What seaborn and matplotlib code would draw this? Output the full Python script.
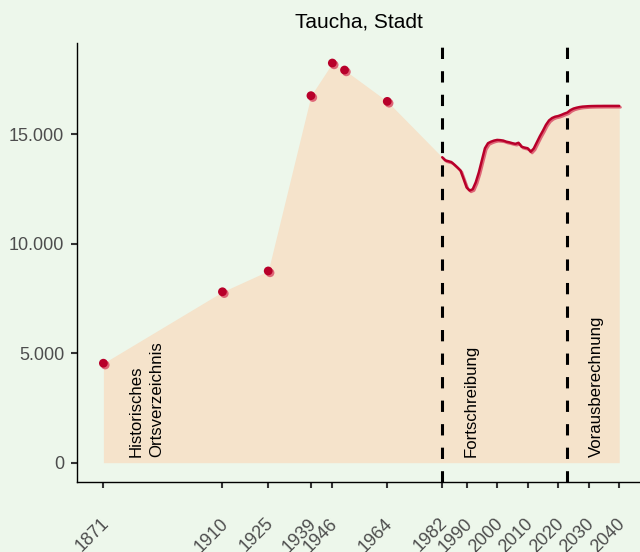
import matplotlib
matplotlib.use("Agg")
import matplotlib.pyplot as plt
import matplotlib.patheffects as pe
import matplotlib.transforms as mtransforms
import seaborn as sns
import pandas as pd
import numpy as np

# ---- data ----
title = "Taucha, Stadt"
hist_years = [1871, 1910, 1925, 1939, 1946, 1950, 1964]
hist_pop = [4540, 7800, 8750, 16750, 18240, 17920, 16490]

fort_years = [1982, 1983, 1984, 1985, 1986, 1987, 1988, 1989, 1990, 1991,
              1992, 1993, 1994, 1995, 1996, 1997, 1998, 1999, 2000, 2001,
              2002, 2003, 2004, 2005, 2006, 2007, 2008, 2009, 2010, 2011,
              2012, 2013, 2014, 2015, 2016, 2017, 2018, 2019, 2020, 2021,
              2022, 2023]
fort_pop = [13940, 13800, 13760, 13720, 13600, 13470, 13330, 12950, 12560, 12420,
            12480, 12800, 13250, 13800, 14350, 14580, 14650, 14700, 14730, 14720,
            14700, 14650, 14620, 14580, 14550, 14600, 14420, 14380, 14350, 14190,
            14340, 14620, 14900, 15150, 15420, 15620, 15730, 15790, 15820, 15870,
            15930, 15980]

proj_years = [2024, 2025, 2026, 2027, 2028, 2029, 2030, 2031, 2032, 2033,
              2034, 2035, 2036, 2037, 2038, 2039, 2040]
proj_pop = [16090, 16160, 16200, 16230, 16250, 16260, 16270, 16275, 16278, 16280,
            16280, 16282, 16282, 16282, 16282, 16282, 16282]

section_breaks = [1982, 2023]
section_labels = ["Historisches\nOrtsverzeichnis", "Fortschreibung", "Vorausberechnung"]
section_label_x = [1885, 1991.6, 2032.6]

xticks = [1871, 1910, 1925, 1939, 1946, 1964, 1982, 1990, 2000, 2010, 2020, 2030, 2040]
yticks = [0, 5000, 10000, 15000]
ytick_labels = ["0", "5.000", "10.000", "15.000"]

# ---- style ----
bg = "#edf7eb"
area_col = "#f5e3cb"
red = "#b8002a"
shadow = "#de6677"

sns.set_theme(style="ticks")
plt.rcParams["font.family"] = ["Liberation Sans", "DejaVu Sans"]

fig = plt.figure(figsize=(6.4, 5.52), dpi=100, facecolor=bg)
ax = fig.add_axes([0.121, 0.1263, 0.879, 0.7953])
ax.set_facecolor(bg)

line_df = pd.DataFrame({"year": fort_years + proj_years, "pop": fort_pop + proj_pop})
hist_df = pd.DataFrame({"year": hist_years, "pop": hist_pop})
all_df = pd.concat([hist_df, line_df], ignore_index=True)

ax.fill_between(all_df["year"], 0, all_df["pop"], color=area_col, lw=0, zorder=1)

for xb in section_breaks:
    ax.axvline(xb, color="black", lw=2.2, dashes=(3.7, 4.0), zorder=2)

sns.lineplot(data=line_df, x="year", y="pop", ax=ax, color=red, lw=1.8, zorder=4,
             path_effects=[pe.SimpleLineShadow(offset=(1.0, -1.0), shadow_color=shadow,
                                                alpha=1.0), pe.Normal()])
sns.scatterplot(data=hist_df, x="year", y="pop", ax=ax, color=red, s=40,
                linewidth=0, zorder=5,
                path_effects=[pe.SimplePatchShadow(offset=(1.3, -1.3), shadow_rgbFace=shadow,
                                                   alpha=1.0), pe.Normal()])

for lab, lx in zip(section_labels, section_label_x):
    ax.text(lx, 250, lab, rotation=90, rotation_mode="anchor", ha="left", va="center",
            fontsize=12.1, color="black", linespacing=1.45, zorder=6)

ax.set_xlim(1862.5, 2046.8)
ax.set_ylim(-895, 19141)
ax.set_xticks(xticks)
ax.set_xticklabels([str(t) for t in xticks], rotation=45, ha="right", va="top",
                   rotation_mode="default")
ax.set_yticks(yticks)
ax.set_yticklabels(ytick_labels)
ax.set_xlabel("")
ax.set_ylabel("")
ax.tick_params(axis="both", labelsize=13, labelcolor="#4d4d4d", color="#333333",
               length=4.5, width=1.5)
ax.tick_params(axis="x", pad=19)
ax.tick_params(axis="y", pad=5)
offset = mtransforms.ScaledTranslation(9 / 100, 0, fig.dpi_scale_trans)
for lbl in ax.get_xticklabels():
    lbl.set_transform(lbl.get_transform() + offset)

for s in ["top", "right"]:
    ax.spines[s].set_visible(False)
for s in ["left", "bottom"]:
    ax.spines[s].set_color("black")
    ax.spines[s].set_linewidth(1.0)

ax.set_title(title, fontsize=15, color="black", pad=11)

fig.savefig("out.png", dpi=100, facecolor=bg)
